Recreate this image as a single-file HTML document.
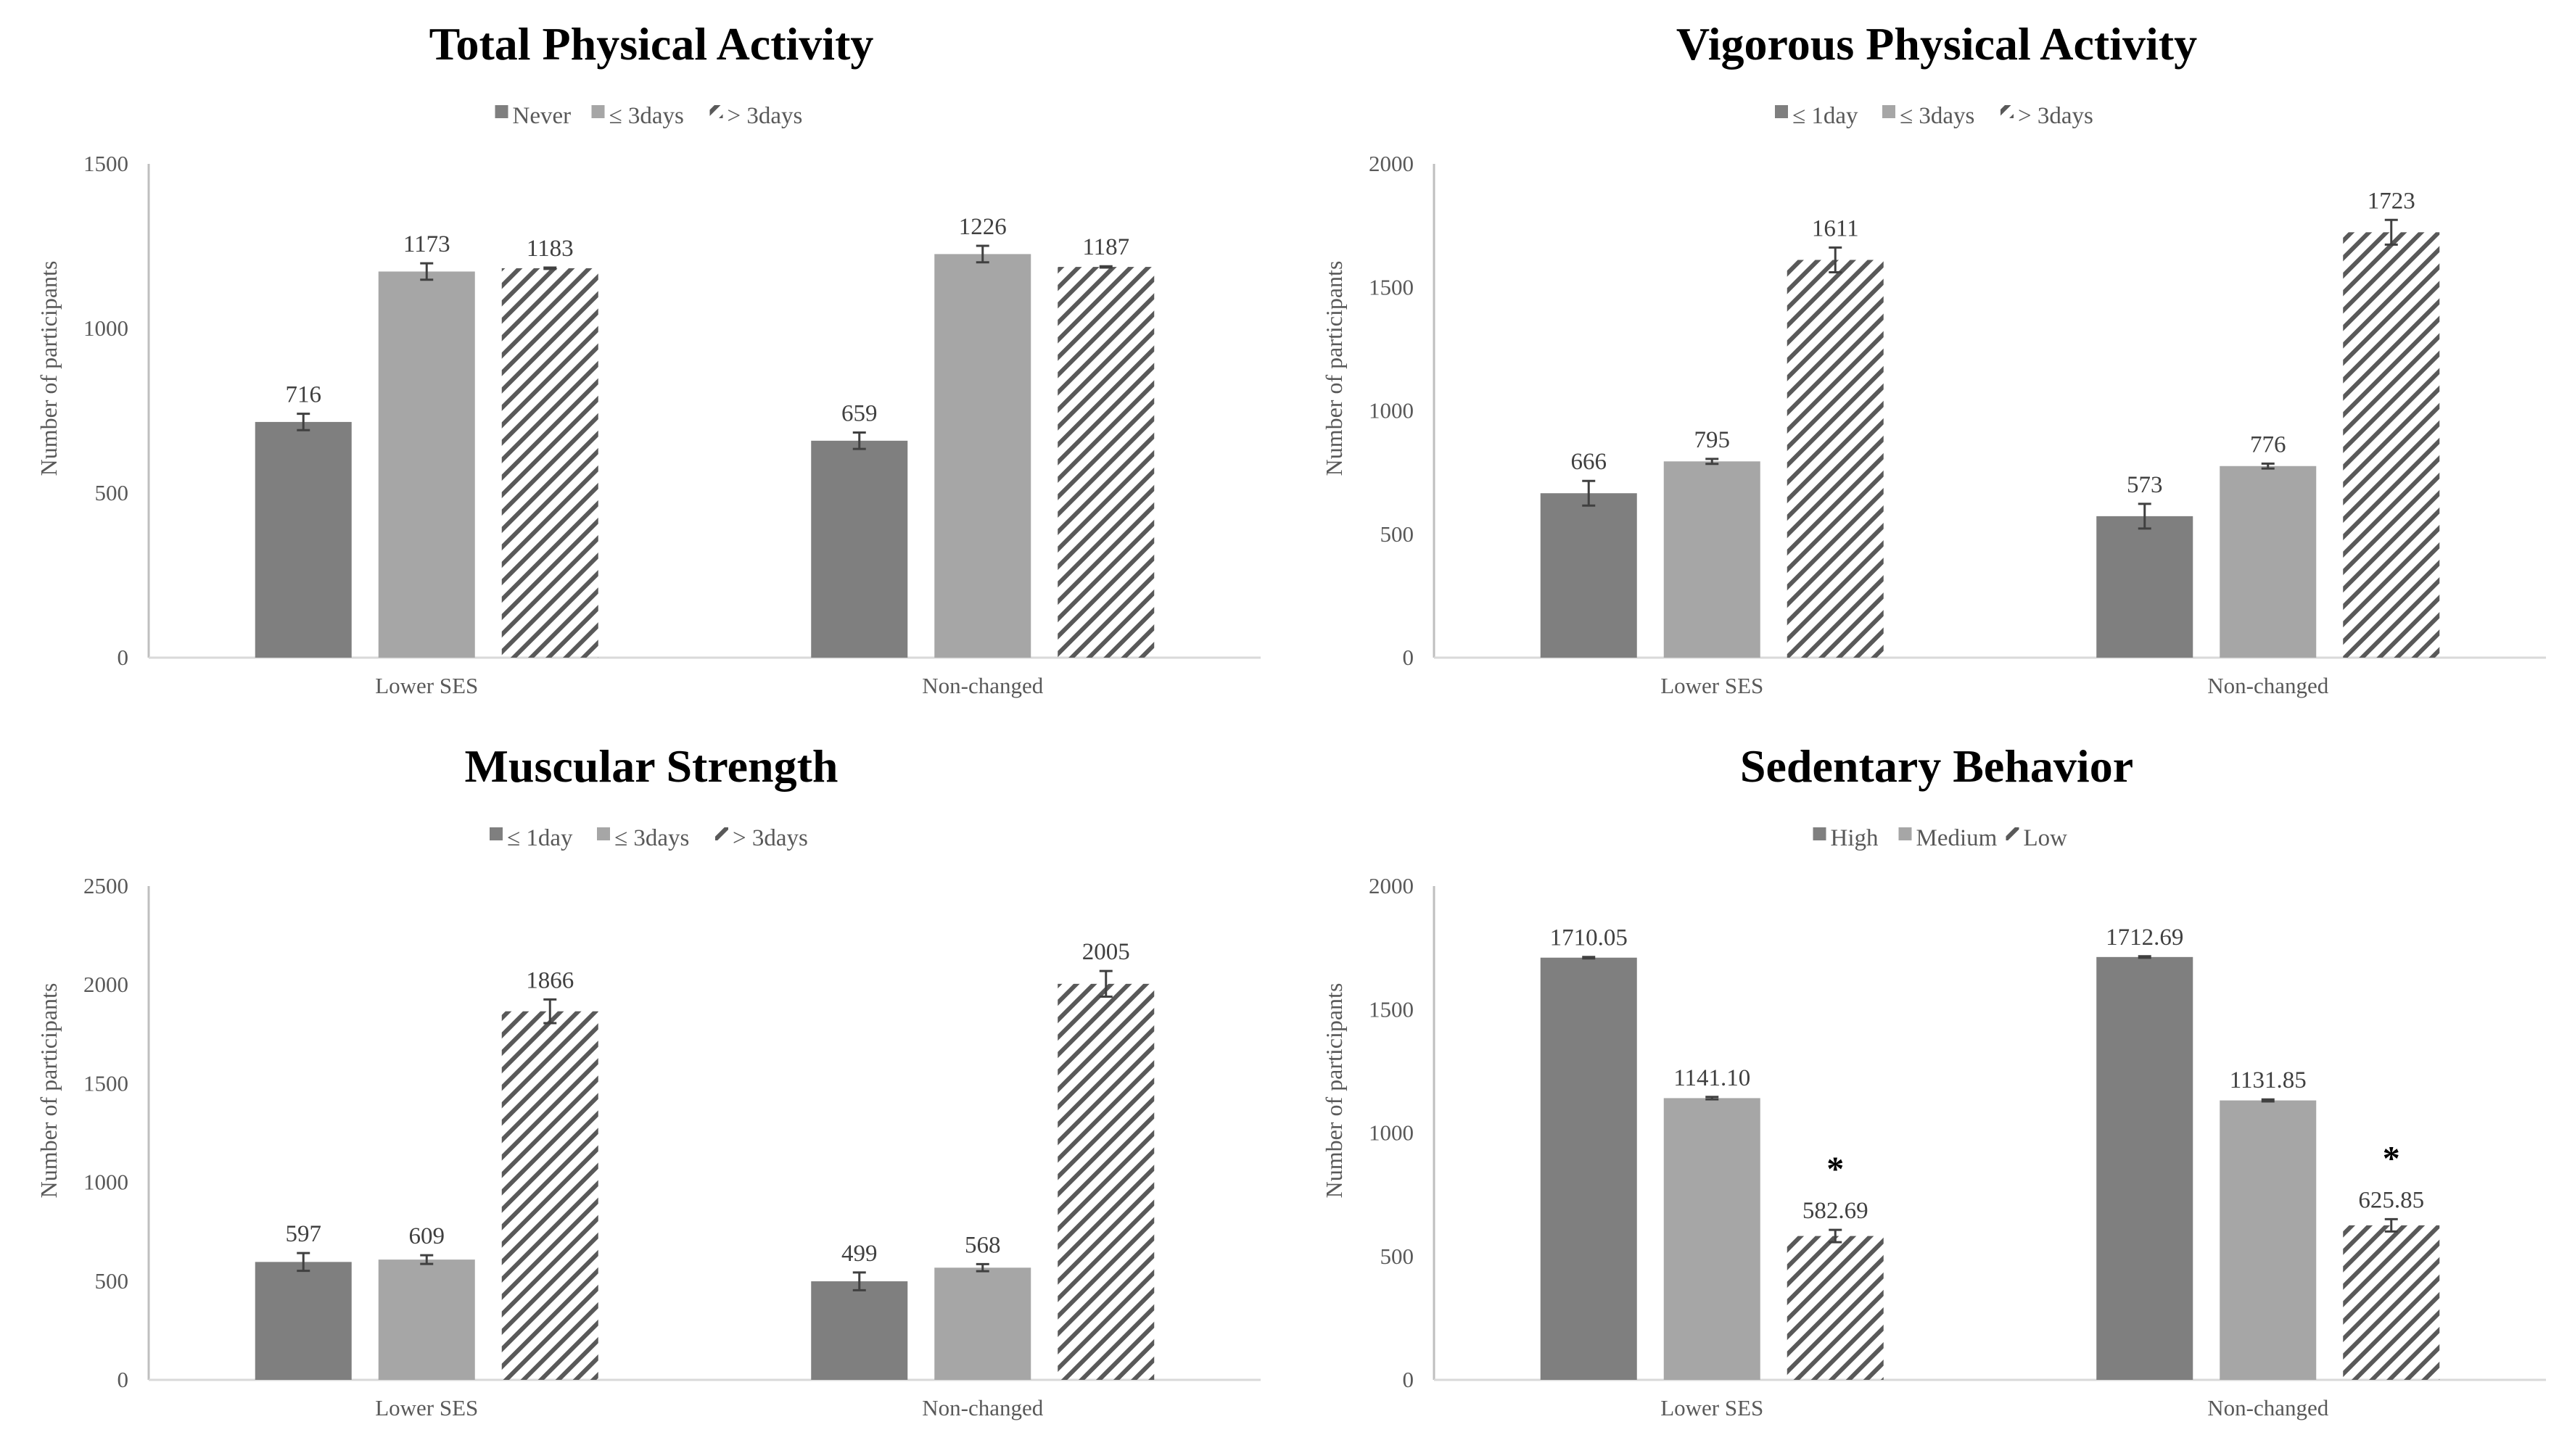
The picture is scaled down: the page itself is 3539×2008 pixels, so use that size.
<!DOCTYPE html>
<html><head><meta charset="utf-8">
<style>
html,body{margin:0;padding:0;background:#fff;}
svg{display:block;font-family:"Liberation Serif",serif;}
</style></head>
<body>
<svg id="chart" width="3539" height="2008" viewBox="0 0 3539 2008" xmlns="http://www.w3.org/2000/svg">
<defs>
<pattern id="hatch" patternUnits="userSpaceOnUse" width="17" height="17" patternTransform="rotate(45)">
<rect x="0" y="0" width="6" height="17" fill="#595959"/>
</pattern>
</defs>
</svg>
<script>
const categories = ["Lower SES", "Non-changed"];
const titles = ["Total Physical Activity", "Vigorous Physical Activity", "Muscular Strength", "Sedentary Behavior"];
const legendTPA = ["Never", "≤ 3days", "> 3days"];
const legendVPA = ["≤ 1day", "≤ 3days", "> 3days"];
const legendMS = ["≤ 1day", "≤ 3days", "> 3days"];
const legendSB = ["High", "Medium", "Low"];
const maxTPA = 1500, maxVPA = 2000, maxMS = 2500, maxSB = 2000;
const ticksTPA = [0, 500, 1000, 1500];
const ticksVPA = [0, 500, 1000, 1500, 2000];
const ticksMS = [0, 500, 1000, 1500, 2000, 2500];
const ticksSB = [0, 500, 1000, 1500, 2000];
const valuesTPA = [[716, 1173, 1183], [659, 1226, 1187]];
const errorsTPA = [[25, 25, 2], [25, 25, 2]];
const labelsTPA = [["716", "1173", "1183"], ["659", "1226", "1187"]];
const valuesVPA = [[666, 795, 1611], [573, 776, 1723]];
const errorsVPA = [[50, 10, 50], [50, 10, 50]];
const labelsVPA = [["666", "795", "1611"], ["573", "776", "1723"]];
const valuesMS = [[597, 609, 1866], [499, 568, 2005]];
const errorsMS = [[45, 22, 60], [45, 18, 65]];
const labelsMS = [["597", "609", "1866"], ["499", "568", "2005"]];
const valuesSB = [[1710.05, 1141.10, 582.69], [1712.69, 1131.85, 625.85]];
const errorsSB = [[3, 5, 25], [3, 4, 25]];
const labelsSB = [["1710.05", "1141.10", "582.69"], ["1712.69", "1131.85", "625.85"]];
const starsSB = [false, false, true];

const NS = "http://www.w3.org/2000/svg";
const svg = document.getElementById("chart");
function mk(tag, attrs, parent, text) {
  const e = document.createElementNS(NS, tag);
  for (const k in attrs) e.setAttribute(k, attrs[k]);
  if (text !== undefined) e.textContent = text;
  (parent || svg).appendChild(e);
  return e;
}
const fills = ["#7f7f7f", "#a6a6a6", "url(#hatch)"];

function drawPanel(idx, ox, oy, legend, ymax, ticks, values, errors, labels, stars) {
  const slug = ["total-pa", "vigorous-pa", "muscular-strength", "sedentary-behavior"][idx];
  const g = mk("g", {});
  
  
  const axX = ox + 205, axR = ox + 1738, top = oy + 226, bot = oy + 907;
  const yS = v => bot - (v / ymax) * (bot - top);
  const cx = ox + 898;
  const t = mk("text", {x: cx, y: oy + 82, "text-anchor": "middle", "font-size": 64, "font-weight": "bold", fill: "#000"}, g, titles[idx]);
  
  
  const lg = mk("g", {}, g);
  
  
  const widths = legend.map(s => s.length * 15 + 30);
  const total = widths.reduce((a, b) => a + b, 0) + 2 * 28;
  let lx = cx - total / 2;
  legend.forEach((s, i) => {
    const eg = mk("g", {}, lg);
    
    
    mk("rect", {x: lx, y: oy + 145, width: 18, height: 18, fill: fills[i]}, eg);
    mk("text", {x: lx + 24, y: oy + 170, "font-size": 33, fill: "#595959"}, eg, s);
    lx += widths[i] + 28;
  });
  const ya = mk("line", {x1: axX, y1: top, x2: axX, y2: bot, stroke: "#bfbfbf", "stroke-width": 3}, g);
  
  
  const xa = mk("line", {x1: axX, y1: bot, x2: axR, y2: bot, stroke: "#d9d9d9", "stroke-width": 3}, g);
  
  
  ticks.forEach(v => {
    const tl = mk("text", {x: axX - 28, y: yS(v) + 10, "text-anchor": "end", "font-size": 31, fill: "#595959"}, g, String(v));
    
    
  });
  const yt = mk("text", {x: 0, y: 0, "text-anchor": "middle", "font-size": 32, fill: "#595959", transform: `translate(${ox + 78},${oy + 508}) rotate(-90)`}, g, "Number of participants");
  
  
  const band = (axR - axX) / categories.length;
  const bw = 133, step = 170;
  categories.forEach((c, ci) => {
    const gc = axX + band * (ci + 0.5);
    const cl = mk("text", {x: gc, y: bot + 49, "text-anchor": "middle", "font-size": 31, fill: "#595959"}, g, c);
    
    
    values[ci].forEach((v, si) => {
      const bx = gc + (si - 1) * step - bw / 2;
      const by = yS(v);
      const r = mk("rect", {x: bx, y: by, width: bw, height: bot - by, fill: fills[si]}, g);
      
      
      const ex = bx + bw / 2, e = errors[ci][si];
      const eb = mk("path", {d: `M${ex},${yS(v + e)}V${yS(v - e)}M${ex - 9},${yS(v + e)}h18M${ex - 9},${yS(v - e)}h18`, stroke: "#404040", "stroke-width": 3, fill: "none"}, g);
      
      
      const vl = mk("text", {x: ex, y: yS(v + e) - 16, "text-anchor": "middle", "font-size": 33, fill: "#404040"}, g, labels[ci][si]);
      
      
      if (stars && stars[si]) {
        const st = mk("text", {x: ex, y: yS(v + e) - 68, "text-anchor": "middle", "font-size": 48, "font-weight": "bold", fill: "#000"}, g, "*");
        
        
      }
    });
  });
}
drawPanel(0, 0, 0, legendTPA, maxTPA, ticksTPA, valuesTPA, errorsTPA, labelsTPA, null);
drawPanel(1, 1772, 0, legendVPA, maxVPA, ticksVPA, valuesVPA, errorsVPA, labelsVPA, null);
drawPanel(2, 0, 996, legendMS, maxMS, ticksMS, valuesMS, errorsMS, labelsMS, null);
drawPanel(3, 1772, 996, legendSB, maxSB, ticksSB, valuesSB, errorsSB, labelsSB, starsSB);
</script>
</body></html>
